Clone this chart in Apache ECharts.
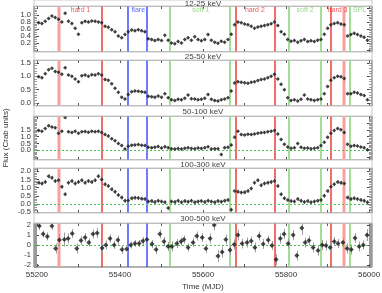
<!DOCTYPE html>
<html><head><meta charset="utf-8">
<script src="https://cdn.jsdelivr.net/npm/echarts@6/dist/echarts.min.js"></script>
<style>html,body{margin:0;padding:0;background:#fff}#c{width:382px;height:293px}</style>
</head><body><div id="c"></div>
<script>
// ---------------- data ----------------
const times = [
55204,55212,55220,55228,55236,55244,55252,55260,55268,55276,
55284,55292,55300,55308,55316,55324,55332,55340,55348,55356,
55364,55372,55380,55388,55396,55404,55412,55420,55428,55436,
55444,55452,55460,55468,55476,55484,55492,55500,55508,55516,
55524,55532,55540,55548,55556,55564,55572,55580,55588,55596,
55604,55612,55620,55628,55636,55644,55652,55660,55668,55676,
55684,55692,55700,55708,55716,55724,55732,55740,55748,55756,
55764,55772,55780,55788,55796,55804,55812,55820,55828,55836,
55844,55852,55860,55868,55876,55884,55892,55900,55908,55916,
55924,55932,55940,55948,55956,55964,55972,55980,55988,55996];
const flux12_25 = [
0.78,0.76,0.82,0.90,0.97,0.93,0.88,0.80,1.05,0.82,
0.76,0.62,0.45,0.78,0.82,0.80,0.83,0.82,0.80,0.78,
0.68,0.65,0.58,0.52,0.40,0.35,0.44,0.52,0.57,0.55,
0.58,0.55,0.52,0.32,0.30,0.27,0.30,0.27,0.42,0.28,
0.20,0.18,0.24,0.20,0.30,0.35,0.28,0.38,0.30,0.26,
0.30,0.44,0.28,0.22,0.19,0.25,0.22,0.30,0.45,0.72,
0.80,0.78,0.74,0.72,0.68,0.62,0.66,0.68,0.70,0.72,
0.75,0.80,0.70,0.52,0.45,0.30,0.25,0.27,0.22,0.26,
0.30,0.24,0.26,0.24,0.28,0.30,0.45,0.62,0.72,0.76,
0.78,0.74,0.72,0.40,0.44,0.48,0.44,0.40,0.36,0.28];
const flux25_50 = [
0.98,0.95,1.10,1.25,1.30,1.18,1.15,1.08,1.32,1.05,
1.00,0.90,0.80,1.02,1.05,1.00,1.06,1.05,1.10,1.05,
0.88,0.85,0.72,0.55,0.40,0.22,0.15,0.32,0.42,0.45,
0.44,0.42,0.40,0.25,0.24,0.22,0.26,0.22,0.35,0.20,
0.12,0.10,0.14,0.12,0.18,0.30,0.16,0.15,0.12,0.14,
0.18,0.32,0.14,0.10,0.08,0.12,0.15,0.20,0.45,0.75,
0.80,0.78,0.76,0.74,0.78,0.80,0.84,0.88,0.90,0.95,
1.00,1.08,0.90,0.70,0.50,0.20,0.10,0.12,0.08,0.14,
0.30,0.15,0.12,0.10,0.12,0.15,0.35,0.62,0.85,0.95,
1.00,0.98,0.92,0.35,0.35,0.40,0.38,0.32,0.28,0.12];
const flux50_100 = [
1.45,1.40,1.60,1.80,1.70,1.65,1.25,1.40,2.40,1.35,
1.30,1.40,1.25,1.35,1.38,1.32,1.40,1.36,1.40,1.30,
1.15,1.05,0.85,0.70,0.50,0.35,0.10,0.30,0.38,0.40,
0.42,0.38,0.35,0.22,0.20,0.22,0.28,0.18,0.26,0.20,
0.12,0.10,0.14,0.10,0.15,0.20,0.14,0.12,0.18,0.14,
0.20,0.26,0.10,0.12,0.12,-0.30,0.20,0.22,0.40,0.95,
1.40,1.15,1.12,1.18,1.15,1.20,1.25,1.28,1.30,1.35,
1.40,1.45,1.20,0.80,0.45,0.25,0.15,0.20,0.50,0.22,
0.15,0.18,0.12,0.15,0.20,0.35,0.60,0.95,1.25,1.45,
1.60,1.50,1.30,0.45,0.30,0.35,0.32,0.25,0.20,0.05];
const flux100_300 = [
1.30,1.25,1.35,1.70,1.60,1.40,1.45,1.05,0.60,1.30,
1.40,1.25,1.35,1.45,1.30,1.40,1.35,1.45,1.70,1.50,
1.20,1.10,0.90,0.75,0.55,0.40,0.20,0.22,0.35,0.38,
0.36,0.32,0.30,0.15,0.18,0.12,0.20,0.15,0.10,-0.25,
0.15,0.12,0.20,0.10,0.18,0.14,0.20,0.10,0.15,0.18,
0.12,0.20,0.15,0.10,0.18,0.14,0.20,0.25,-0.35,0.80,
0.75,0.70,0.72,0.80,0.95,1.30,1.45,1.15,1.25,1.30,
1.35,1.40,1.10,0.60,0.35,0.25,0.18,0.15,0.30,0.20,
0.12,0.18,0.10,0.15,0.20,0.25,0.50,0.80,1.05,1.20,
1.35,1.30,1.25,0.40,0.30,0.35,0.30,0.25,0.20,0.10];
// typical error-bar half lengths
const err12_25 = 0.03, err25_50 = 0.04, err50_100 = 0.08, err100_300 = 0.12;
const times300_500 = [
55206,55215,55225,55236,55245,55254,55266,55275,55285,55296,
55306,55316,55325,55335,55345,55357,55366,55376,55386,55395,
55405,55416,55426,55436,55446,55455,55465,55477,55487,55496,
55506,55516,55525,55537,55547,55554,55564,55576,55585,55598,
55607,55617,55627,55636,55646,55655,55665,55675,55684,55694,
55706,55716,55725,55735,55745,55757,55766,55776,55786,55795,
55805,55817,55826,55838,55846,55855,55865,55877,55887,55896,
55906,55916,55925,55937,55947,55957,55966,55976,55986,55995];
const flux300_500 = [
1.9,1.1,0.85,1.9,-0.35,0.5,0.55,0.65,1.15,-0.35,
0.45,0.75,0.25,1.1,1.2,-0.3,0.0,0.65,0.0,0.5,
-0.45,-0.4,0.0,0.15,0.15,0.4,0.55,0.1,-0.45,1.1,
0.35,-0.15,-0.15,0.15,0.35,0.55,-0.25,0.25,0.9,0.75,
-0.35,0.65,2.0,-1.1,-0.7,0.55,-0.5,0.05,1.0,0.15,
0.25,0.4,-0.25,0.9,0.1,0.5,-0.05,-1.45,0.65,1.1,
0.15,1.0,-1.05,1.7,0.25,0.45,-0.25,-0.55,0.0,-0.05,
-0.25,0.35,0.15,0.25,-0.35,-0.45,0.7,-0.15,0.0,1.0];
const err300_500 = [
0.4,0.35,0.4,0.4,0.5,0.6,0.7,0.5,0.45,0.5,
0.45,0.45,0.4,0.45,0.5,0.5,0.45,0.4,0.4,0.45,
0.45,0.4,0.35,0.35,0.35,0.4,0.45,0.4,0.45,0.45,
0.45,0.45,0.5,0.45,0.4,0.4,0.4,0.45,0.45,0.45,
0.45,0.5,0.55,0.6,0.55,0.5,0.5,0.5,0.55,0.5,
0.5,0.45,0.5,0.45,0.5,0.45,0.45,0.55,0.5,0.5,
0.5,0.5,0.5,0.7,0.5,0.5,0.5,0.5,0.5,0.5,
0.5,0.45,0.45,0.5,0.5,0.5,0.5,0.5,0.45,0.6];

const bandNames = ['12-25 keV','25-50 keV','50-100 keV','100-300 keV','300-500 keV'];
const transitionMJD  = [55254,55357,55420,55466,55520,55665,55680,55773,55807,55885,55909,55940,55953];
const transitionKind = ['pink','red','blue','blue','green','green','red','red','green','green','red','pink','green'];
const stateNames = ['hard 1','flare','soft 1','hard 2','soft 2','hard 3','SPL'];
const stateMJD   = [55305,55444,55595,55725,55846,55924,55977];
const stateKind  = ['red','blue','green','red','green','red','green'];
const xTickLabels = [55200,55400,55600,55800,56000];
const yTicks12_25 = [0,0.2,0.4,0.6,0.8,1.0,1.2];
const yTicks25_50 = [0,0.5,1.0,1.5];
const yTicks50_100 = [-0.5,0,0.5,1.0,1.5,2.0];
const yTicks100_300 = [-0.5,0,0.5,1.0,1.5,2.0];
const yTicks300_500 = [-2,-1,0,1,2];
const yTitle = 'Flux (Crab units)';
const xTitle = 'Time (MJD)';

// ---------------- layout / style ----------------
const FONT = '"Liberation Sans", Arial, sans-serif';
const X_MIN = 55193, X_MAX = 56007;
const colors = {red:'#ec3030', pink:'#f6a0a0', blue:'#3344ff', green:'#7ccf6c'};
const panels = [
  {top:6,   height:46, min:-0.06, max:1.26, ticks:yTicks12_25,  minor:0.05, dec:1, t:times, v:flux12_25, e:err12_25, zero:false, sym:4},
  {top:60,  height:46, min:-0.11, max:1.61, ticks:yTicks25_50,  minor:0.1,  dec:1, t:times, v:flux25_50, e:err25_50, zero:false, sym:4},
  {top:116, height:44, min:-0.7,  max:2.5,  ticks:yTicks50_100, minor:0.1,  dec:1, t:times, v:flux50_100, e:err50_100, zero:true, sym:4},
  {top:168, height:45, min:-0.55, max:2.2,  ticks:yTicks100_300,minor:0.1,  dec:1, t:times, v:flux100_300, e:err100_300, zero:true, sym:4},
  {top:223, height:44, min:-2.2,  max:2.2,  ticks:yTicks300_500,minor:0.1,  dec:0, t:times300_500, v:flux300_500, e:err300_500, zero:true, sym:5}
];
function range(a,b,s){const r=[];for(let x=Math.ceil(a/s-1e-9)*s;x<=b+1e-9;x+=s)r.push(+x.toFixed(4));return r;}
const xTickAll = range(55200,56000,100);
const px = v => Math.round(v) + 0.5;

const grid=[], xAxis=[], yAxis=[], series=[], graphic=[];
panels.forEach((p,i)=>{
  grid.push({left:34,right:10,top:p.top,height:p.height,show:true,borderColor:'#666',borderWidth:1,
    backgroundColor:'transparent',containLabel:false,outerBoundsMode:'none'});
  const xb = {type:'value',gridIndex:i,min:X_MIN,max:X_MAX,axisLine:{show:false,onZero:false},splitLine:{show:false}};
  xAxis.push(Object.assign({},xb,{position:'bottom',
    axisTick:{show:true,inside:true,length:3,customValues:xTickAll,lineStyle:{color:'#555'}},
    axisLabel:{show:i===4,customValues:xTickLabels,fontSize:8,color:'#333',margin:4,fontFamily:FONT,formatter:v=>String(v)}}));
  xAxis.push(Object.assign({},xb,{position:'top',
    axisTick:{show:true,inside:true,length:3,customValues:xTickAll,lineStyle:{color:'#555'}},axisLabel:{show:false}}));
  const minors = range(p.min,p.max,p.minor);
  const yb = {type:'value',gridIndex:i,min:p.min,max:p.max,axisLine:{show:false,onZero:false},splitLine:{show:false}};
  yAxis.push(Object.assign({},yb,{position:'left',
    axisTick:{show:true,inside:true,length:5,customValues:p.ticks,lineStyle:{color:'#444'}},
    axisLabel:{show:true,customValues:p.ticks,fontSize:7.5,color:'#333',margin:3,fontFamily:FONT,
      formatter:v=>(+v).toFixed(p.dec)}}));
  yAxis.push(Object.assign({},yb,{position:'left',axisTick:{show:true,inside:true,length:3,customValues:minors,lineStyle:{color:'#999'}},axisLabel:{show:false}}));
  yAxis.push(Object.assign({},yb,{position:'right',axisTick:{show:true,inside:true,length:5,customValues:p.ticks,lineStyle:{color:'#444'}},axisLabel:{show:false}}));
  yAxis.push(Object.assign({},yb,{position:'right',axisTick:{show:true,inside:true,length:3,customValues:minors,lineStyle:{color:'#999'}},axisLabel:{show:false}}));

  // vertical state-transition lines
  series.push({type:'custom',xAxisIndex:i*2,yAxisIndex:i*4,silent:true,animation:false,z:1,
    renderItem:(params,api)=>{const cs=params.coordSys;const kind=transitionKind[api.value(1)];
      const w = kind==='pink'?3:1.4; const x=Math.round(api.coord([api.value(0),0])[0]);
      return {type:'line',shape:{x1:x,y1:cs.y,x2:x,y2:cs.y+cs.height},style:{stroke:colors[kind],lineWidth:w}};},
    data:transitionMJD.map((t,k)=>[t,k])});
  if(p.zero){
    series.push({type:'custom',xAxisIndex:i*2,yAxisIndex:i*4,silent:true,animation:false,z:1,
      renderItem:(params,api)=>{const cs=params.coordSys;const y=px(api.coord([X_MIN,api.value(0)])[1]);
        return {type:'line',shape:{x1:cs.x,y1:y,x2:cs.x+cs.width,y2:y},style:{stroke:'#4fbf4f',lineWidth:1,lineDash:[2,2]}};},
      data:[[0]]});
  }
  const errData = p.t.map((x,k)=>{const e=Array.isArray(p.e)?p.e[k]:p.e;
    return [x, Math.max(p.min,p.v[k]-e), Math.min(p.max,p.v[k]+e)];});
  series.push({type:'custom',xAxisIndex:i*2,yAxisIndex:i*4,silent:true,animation:false,clip:true,z:2,
    renderItem:(params,api)=>{const a=api.coord([api.value(0),api.value(1)]),b=api.coord([api.value(0),api.value(2)]);
      const x=px(a[0]);
      return {type:'line',shape:{x1:x,y1:a[1],x2:x,y2:b[1]},style:{stroke:'#a0a0a0',lineWidth:1}};},
    data:errData});
  series.push({type:'scatter',xAxisIndex:i*2,yAxisIndex:i*4,symbol:'diamond',symbolSize:p.sym,
    itemStyle:{color:'#1a1a1a'},silent:true,animation:false,clip:true,z:3,
    data:p.t.map((x,k)=>[x,p.v[k]])});
  // title band
  const bandTop = i===0?0:panels[i-1].top+panels[i-1].height;
  graphic.push({type:'rect',shape:{x:34,y:bandTop,width:338,height:p.top-bandTop},style:{fill:'#fff',stroke:'#c8c8c8',lineWidth:1},z:10,silent:true});
  graphic.push({type:'text',x:203,y:bandTop+(p.top-bandTop)/2+0.5,style:{text:bandNames[i],align:'center',verticalAlign:'middle',font:'8px '+FONT,fill:'#444'},z:11,silent:true});
});
// axis titles
graphic.push({type:'text',x:6,y:138,rotation:Math.PI/2,style:{text:yTitle,align:'center',verticalAlign:'middle',font:'8px '+FONT,fill:'#333'},z:11,silent:true});
graphic.push({type:'text',x:203,y:287,style:{text:xTitle,align:'center',verticalAlign:'middle',font:'8px '+FONT,fill:'#333'},z:11,silent:true});
// state labels in the top panel
series.push({type:'scatter',xAxisIndex:0,yAxisIndex:0,symbolSize:0,silent:true,animation:false,z:5,
  data:stateNames.map((n,k)=>({value:[stateMJD[k],1.13],name:n,label:{color:colors[stateKind[k]]}})),
  label:{show:true,position:'inside',formatter:'{b}',fontSize:7,fontFamily:FONT}});

const chart = echarts.init(document.getElementById('c'));
chart.setOption({animation:false,backgroundColor:'#fff',grid,xAxis,yAxis,series,graphic});
</script></body></html>
